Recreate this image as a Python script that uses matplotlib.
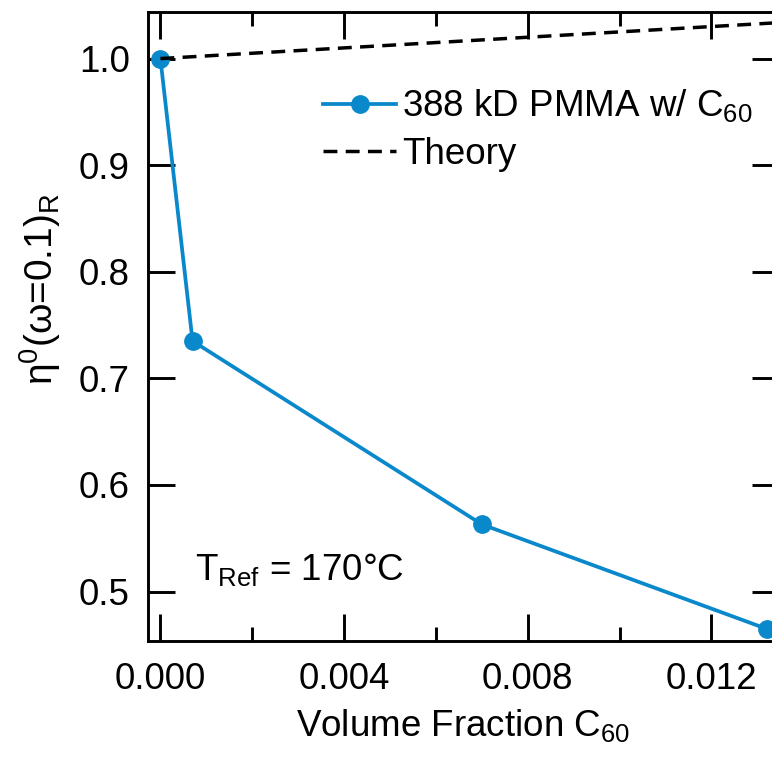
import matplotlib
matplotlib.use("Agg")
import matplotlib.pyplot as plt
from matplotlib.ticker import MultipleLocator, FormatStrFormatter

plt.rcParams['font.family'] = ['Liberation Sans', 'DejaVu Sans']
plt.rcParams['mathtext.fontset'] = 'custom'
plt.rcParams['mathtext.rm'] = 'Liberation Sans'
plt.rcParams['mathtext.it'] = 'Liberation Sans:italic'
plt.rcParams['mathtext.default'] = 'regular'

# measured data
phi = [0.0, 0.0007, 0.007, 0.0132]
eta = [1.0, 0.735, 0.563, 0.465]
# theory line endpoints
phi_th = [0.0, 0.0135]
eta_th = [1.0, 1.0338]

blue = '#0a88cc'
fs = 26.5

fig = plt.figure(figsize=(7.72, 7.57), dpi=100)
ax = fig.add_axes([148/772, 116/757, 631/772, 629/757])

ax.plot(phi, eta, color=blue, lw=2.7, marker='o', ms=12.5,
        label='388 kD PMMA w/ C$_{60}$', clip_on=False, zorder=3)
ax.plot(phi_th, eta_th, color='black', lw=2.5, linestyle=(0, (4.0, 2.4)),
        label='Theory', zorder=4)

ax.set_xlim(-0.00027, 0.01347)
ax.set_ylim(0.4536, 1.0437)

ax.xaxis.set_major_locator(MultipleLocator(0.004))
ax.xaxis.set_minor_locator(MultipleLocator(0.002))
ax.xaxis.set_major_formatter(FormatStrFormatter('%.3f'))
ax.yaxis.set_major_locator(MultipleLocator(0.1))
ax.yaxis.set_major_formatter(FormatStrFormatter('%.1f'))

ax.tick_params(which='both', direction='in', top=True, right=True, width=2.1)
ax.tick_params(which='major', length=19.5)
ax.tick_params(which='minor', length=10)
ax.tick_params(axis='x', which='major', labelsize=fs, pad=15)
ax.tick_params(axis='y', which='major', labelsize=fs, pad=13)
for sp in ax.spines.values():
    sp.set_linewidth(2.1)

ax.set_xlabel('Volume Fraction C$_{60}$', fontsize=fs, labelpad=7)
ax.set_ylabel(r'η$^{0}$(ω=0.1)$_{\mathrm{R}}$', fontsize=28)
ax.yaxis.set_label_coords(-0.135, 0.56)

ax.text(0.00075, 0.511, 'T$_{\\mathrm{Ref}}$ = 170°C', fontsize=fs)

ax.legend(loc='upper left', bbox_to_anchor=(0.277, 0.88), frameon=False,
          fontsize=fs, borderpad=0, borderaxespad=0, handlelength=2.0,
          handletextpad=0.15, labelspacing=0.34)

fig.savefig('out.png', dpi=100)
